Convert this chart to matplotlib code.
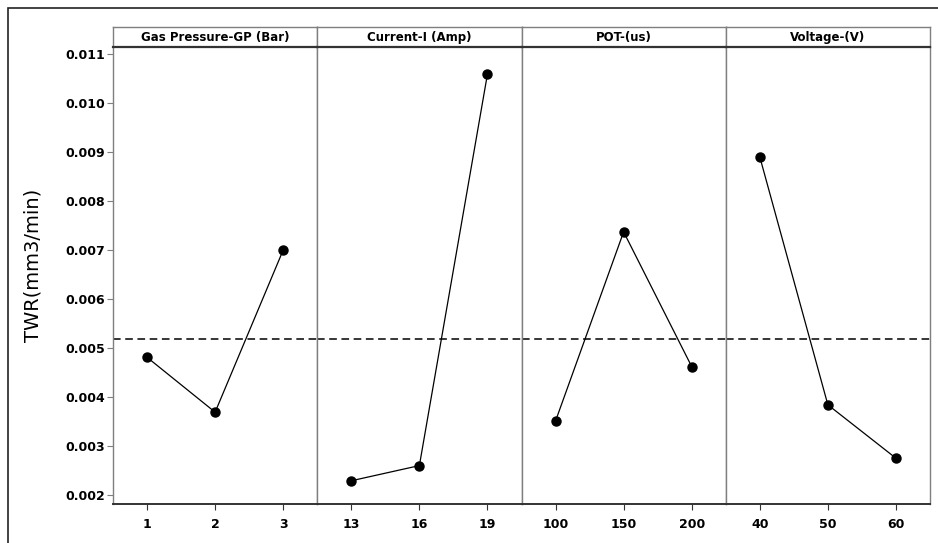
import matplotlib
matplotlib.use("Agg")
import matplotlib.pyplot as plt
from matplotlib.patches import Rectangle

# Main effects data (mean TWR at each factor level)
factor_names = ["Gas Pressure-GP (Bar)", "Current-I (Amp)", "POT-(us)", "Voltage-(V)"]
gp_levels = ["1", "2", "3"]
gp_twr = [0.00481, 0.00369, 0.00700]
cur_levels = ["13", "16", "19"]
cur_twr = [0.00229, 0.00260, 0.01059]
pot_levels = ["100", "150", "200"]
pot_twr = [0.00351, 0.00737, 0.00462]
volt_levels = ["40", "50", "60"]
volt_twr = [0.00890, 0.00384, 0.00275]
grand_mean = 0.00518

y_ticks = [0.002, 0.003, 0.004, 0.005, 0.006, 0.007, 0.008, 0.009, 0.010, 0.011]

plt.rcParams["font.family"] = ["DejaVu Sans"]

W, H = 938, 543
fig = plt.figure(figsize=(W / 100, H / 100), dpi=100)
fig.patch.set_facecolor("white")

# outer frame, runs off the right/bottom edge like the source image
fig.patches.append(Rectangle((8 / W, -0.05), 1.2, 1 - 8 / H + 0.05,
                             transform=fig.transFigure, fill=False,
                             edgecolor="#222222", linewidth=1.2))

left_px, right_px = 113, 930
top_px, bottom_px = 47, 504
strip_px = 20
panel_w = (right_px - left_px) / 4

series = [(gp_levels, gp_twr), (cur_levels, cur_twr),
          (pot_levels, pot_twr), (volt_levels, volt_twr)]

edge = "#7f7f7f"
dark = "#333333"

for i, ((levels, vals), name) in enumerate(zip(series, factor_names)):
    x0 = (left_px + i * panel_w) / W
    ax = fig.add_axes([x0, 1 - bottom_px / H, panel_w / W,
                       (bottom_px - top_px) / H])
    xs = list(range(1, len(levels) + 1))
    ax.plot(xs, vals, color="black", linewidth=0.9, marker="o",
            markersize=6.5, markerfacecolor="black", markeredgecolor="black",
            zorder=3)
    ax.axhline(grand_mean, color="black", linestyle=(0, (5, 3)),
               linewidth=1.1, zorder=2)
    ax.set_xlim(0.5, len(levels) + 0.5)
    ax.set_ylim(0.001816, 0.011143)
    ax.set_xticks(xs)
    ax.set_xticklabels(levels, fontsize=9, fontweight="bold")
    ax.tick_params(axis="x", direction="out", length=4, color=dark, pad=6)
    if i == 0:
        ax.set_yticks(y_ticks)
        ax.set_yticklabels([f"{v:.3f}" for v in y_ticks],
                           fontsize=9, fontweight="bold")
        ax.tick_params(axis="y", direction="out", length=4, color=edge, pad=2)
        ax.set_ylabel("TWR(mm3/min)", fontsize=14)
        ax.yaxis.set_label_coords(-0.345, 0.523)
    else:
        ax.set_yticks([])
    for s in ("left", "right", "top"):
        ax.spines[s].set_color(edge)
        ax.spines[s].set_linewidth(1.0)
    ax.spines["top"].set_visible(False)
    ax.spines["bottom"].set_color(dark)
    ax.spines["bottom"].set_linewidth(1.4)

    # facet strip
    sax = fig.add_axes([x0, 1 - top_px / H, panel_w / W, strip_px / H])
    sax.set_xticks([])
    sax.set_yticks([])
    for s in ("left", "right", "top"):
        sax.spines[s].set_color(edge)
        sax.spines[s].set_linewidth(1.0)
    sax.spines["bottom"].set_color(dark)
    sax.spines["bottom"].set_linewidth(1.6)
    sax.text(0.5, 0.5, name, ha="center", va="center",
             fontsize=8.5, fontweight="bold", transform=sax.transAxes)

fig.savefig("out.png", dpi=100, facecolor="white")
